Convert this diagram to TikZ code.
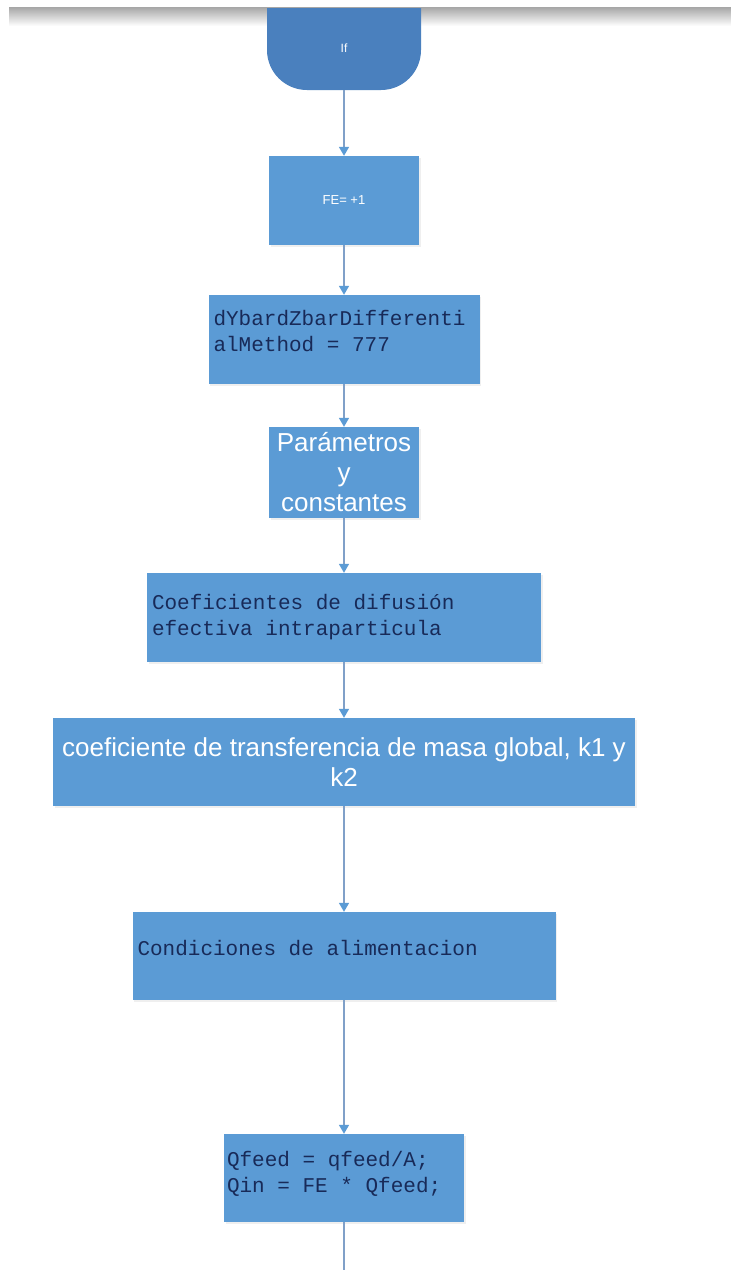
\documentclass[tikz,border=0pt]{standalone}
\usepackage{fontspec}
\setmainfont{Liberation Sans}
\setmonofont{Liberation Mono}
\usepackage{tikz}
\usetikzlibrary{arrows.meta,shadows}

\definecolor{boxblue}{RGB}{91,155,213}
\definecolor{termblue}{RGB}{74,128,190}
\definecolor{linkblue}{RGB}{128,160,200}
\definecolor{codenavy}{RGB}{24,42,88}

\begin{document}
\begin{tikzpicture}[x=1pt,y=-1pt,
  block/.style={rectangle,fill=boxblue,inner ysep=0pt,
    drop shadow={opacity=0.12,shadow xshift=1.5pt,shadow yshift=-2pt}},
  code/.style={block,inner xsep=5pt,font=\fontsize{21}{26}\selectfont\ttfamily,
    text=codenavy,align=flush left},
  plain/.style={block,inner xsep=2pt,font=\fontsize{26}{30}\selectfont,
    text=white,align=center},
  link/.style={draw=linkblue,line width=1.5pt,
    -{Triangle[width=10pt,length=9pt,color=boxblue]}}]
\useasboundingbox[fill=white] (0,0) rectangle (731,1270);
% top edge of the page
\shade[top color=black!35,bottom color=white] (9,7) rectangle (731,26);
\begin{scope}
\clip (0,8) rectangle (731,1270);
\node (term) at (344,20) [rectangle,rounded corners=40pt,fill=termblue,
  minimum width=154pt,minimum height=140pt,text=white,
  text height=64pt,text depth=0pt,
  font=\fontsize{12}{14}\selectfont]{If};
\end{scope}
\node (fe) at (344,200.5) [block,minimum width=150pt,minimum height=89pt,
  text=white,font=\fontsize{13}{15}\selectfont]{FE= +1};
\node (dy) at (344,339.5) [code,text width=261pt,minimum height=89pt]
  {dYbardZbarDifferenti\\alMethod = 777\\[-8pt]\mbox{}};
\node (par) at (344,472.5) [plain,minimum width=150pt,minimum height=91pt]
  {Parámetros\\y\\constantes};
\node (coef) at (344,617.5) [code,text width=384pt,minimum height=89pt]
  {Coeficientes de difusión\\efectiva intraparticula};
\node (trans) at (344,762) [plain,minimum width=582pt,minimum height=88pt]
  {coeficiente de transferencia de masa global, k1 y\\k2};
\node (cond) at (344,956) [code,text width=413pt,minimum height=88pt]
  {Condiciones de alimentacion\\[-10pt]\mbox{}};
\node (qfeed) at (344,1178) [code,inner xsep=3pt,text width=234pt,minimum height=88pt]
  {Qfeed = qfeed/A;\\Qin = FE * Qfeed;\\[-14pt]\mbox{}};
\coordinate (tail) at (344,1270);
% connectors
\draw [link] (term.south) -- (fe.north);
\draw [link] (fe.south) -- (dy.north);
\draw [link] (dy.south) -- (par.north);
\draw [link] (par.south) -- (coef.north);
\draw [link] (coef.south) -- (trans.north);
\draw [link] (trans.south) -- (cond.north);
\draw [link] (cond.south) -- (qfeed.north);
\draw [draw=linkblue,line width=1.5pt] (qfeed.south) -- (tail);
\end{tikzpicture}
\end{document}
